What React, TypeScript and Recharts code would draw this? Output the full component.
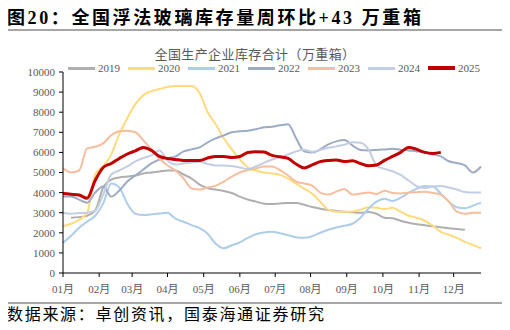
import React from 'react'
import { LineChart, Line, XAxis, YAxis, Legend } from 'recharts'

// weekly stock, 万重箱 (week 0 = first week of January)
const s2019 = [null, 2750, 2780, 2850, 3100, 4250, 4650, 4750, 4800, 4850, 4950, 5000, 5050, 5100, 5100, 4900, 4700, 4400, 4220, 4150, 4080, 3980, 3800, 3650, 3550, 3450, 3430, 3460, 3480, 3480, 3400, 3280, 3200, 3130, 3080, 3050, 3020, 3000, 3030, 2950, 2750, 2720, 2600, 2500, 2430, 2380, 2320, 2280, 2230, 2190, 2150, null, null]
const s2020 = [2330, 2450, 2650, 2980, 4900, 5300, 5900, 6900, 7700, 8400, 8850, 9050, 9150, 9250, 9300, 9300, 9300, 8950, 8000, 7400, 6700, 6150, 5650, 5250, 5100, 5000, 4950, 4880, 4700, 4450, 4200, 3950, 3550, 3150, 3050, 3050, 3060, 3150, 3270, 3250, 3180, 3250, 3050, 2850, 2750, 2600, 2350, 2050, 1900, 1750, 1550, 1400, 1230]
const s2021 = [1500, 1850, 2250, 2550, 2850, 3450, 4450, 4250, 3450, 2950, 2880, 2920, 2960, 3000, 2700, 2550, 2380, 2230, 1950, 1450, 1230, 1380, 1520, 1750, 1930, 2020, 2050, 1980, 1880, 1780, 1750, 1830, 2000, 2150, 2260, 2350, 2450, 2750, 3200, 3550, 3700, 3580, 3750, 3980, 4200, 4330, 4300, 3950, 3550, 3270, 3220, 3350, 3500]
const s2022 = [3800, 3800, 3650, 3500, 4000, 4300, 3800, 4100, 4550, 4850, 5150, 5450, 5650, 5720, 5800, 6050, 6150, 6250, 6500, 6700, 6850, 7000, 7050, 7080, 7150, 7250, 7280, 7350, 7400, 6700, 6050, 5990, 6150, 6400, 6550, 6620, 6350, 6120, 6100, 6120, 6150, 6180, 6130, 6100, 6050, 6030, 5900, 5800, 5560, 5470, 5350, 5000, 5300]
const s2023 = [5220, 5000, 5100, 6200, 6280, 6450, 6850, 7050, 7080, 7000, 6600, 6150, 5700, 5350, 5100, 4700, 4200, 4150, 4250, 4350, 4550, 4800, 5000, 5120, 5200, 5300, 5300, 5120, 4850, 4550, 4450, 4350, 4000, 3900, 4050, 4180, 3900, 3950, 4000, 3930, 4090, 3980, 3960, 4000, 4020, 4040, 3980, 3900, 3550, 3050, 2950, 3000, 3000]
const s2024 = [3000, 2950, 2980, 3000, 3100, 3900, 4900, 5100, 5300, 5550, 5720, 5850, 6100, 5600, 5400, 5450, 5500, 5540, 5420, 5350, 5350, 5320, 5250, 5170, 5300, 5480, 5650, 5760, 5900, 6050, 6130, 6030, 6120, 6230, 6300, 6380, 6500, 6480, 6150, 5350, 5180, 5060, 4880, 4600, 4320, 4230, 4300, 4330, 4250, 4150, 4030, 4000, 4000]
const s2025 = [3960, 3920, 3880, 3720, 4600, 5250, 5450, 5700, 5920, 6080, 6250, 6100, 5800, 5700, 5650, 5600, 5600, 5600, 5720, 5800, 5800, 5750, 5800, 6000, 6030, 6020, 5850, 5780, 5700, 5420, 5230, 5380, 5540, 5600, 5620, 5550, 5580, 5450, 5330, 5370, 5600, 5800, 6000, 6250, 6150, 6000, 5950, 6000, null, null, null, null, null]

const monthTicks = [0, 4.5, 8.6, 13.0, 17.5, 22.0, 26.4, 30.8, 35.3, 39.8, 44.3, 48.6]
const monthLabels = ['01月', '02月', '03月', '04月', '05月', '06月', '07月', '08月', '09月', '10月', '11月', '12月']
const yTicks = [0, 1000, 2000, 3000, 4000, 5000, 6000, 7000, 8000, 9000, 10000]

const series = [
    { key: 'y2019', name: '2019', values: s2019, color: '#AFAFAF', width: 2 },
    { key: 'y2020', name: '2020', values: s2020, color: '#FFDB7E', width: 2 },
    { key: 'y2021', name: '2021', values: s2021, color: '#AECDEB', width: 2 },
    { key: 'y2022', name: '2022', values: s2022, color: '#9DABC5', width: 2 },
    { key: 'y2023', name: '2023', values: s2023, color: '#F6BE9F', width: 2 },
    { key: 'y2024', name: '2024', values: s2024, color: '#C3CDE3', width: 2 },
    { key: 'y2025', name: '2025', values: s2025, color: '#C00000', width: 3 },
]

const data = s2020.map((_, i) => {
    const row: Record<string, number | null> = { week: i }
    series.forEach((s) => { row[s.key] = s.values[i] })
    return row
})

const serif = "'Liberation Serif', 'Noto Sans CJK SC', serif"
const cjk = "'Noto Sans CJK SC', sans-serif"

const renderLegend = (props: any) => (
    <div style={{ display: 'flex' }}>
        {props.payload.map((entry: any) => (
            <div key={entry.value} style={{ width: 60, display: 'flex', alignItems: 'center' }}>
                <span style={{ display: 'inline-block', width: 27, height: entry.value === '2025' ? 4 : 3, background: entry.color, marginRight: 3 }} />
                <span>{entry.value}</span>
            </div>
        ))}
    </div>
)

export default function App() {
    return (
        <div style={{ position: 'relative', width: 510, height: 330, margin: -8, background: '#fff', overflow: 'hidden' }}>
            <div style={{ position: 'absolute', left: 7, top: 3, fontFamily: serif, fontWeight: 'bold', fontSize: 18, letterSpacing: 2.6, color: '#000', whiteSpace: 'nowrap' }}>
                图20：全国浮法玻璃库存量周环比+43 万重箱
            </div>
            <div style={{ position: 'absolute', left: 5, top: 29, width: 498, height: 2, background: '#A6A6A6' }} />
            <div style={{ position: 'absolute', left: 0, top: 44, width: 510, textAlign: 'center', fontFamily: cjk, fontSize: 13, color: '#595959', letterSpacing: 0.4 }}>
                全国生产企业库存合计（万重箱）
            </div>
            <div style={{ position: 'absolute', left: 0, top: 0 }}>
                <LineChart width={510} height={300} data={data} margin={{ top: 72, right: 29, left: 8, bottom: 0 }}>
                    <XAxis
                        dataKey="week"
                        type="number"
                        domain={[0, 52]}
                        ticks={monthTicks}
                        interval={0}
                        tickFormatter={(v: number) => monthLabels[monthTicks.indexOf(v)]}
                        height={27}
                        tickSize={4}
                        tickMargin={8}
                        stroke="#000"
                        tick={{ fill: '#595959', fontSize: 11, fontFamily: serif }}
                    />
                    <YAxis
                        domain={[0, 10000]}
                        ticks={yTicks}
                        interval={0}
                        width={55}
                        tickSize={4}
                        tickMargin={4}
                        stroke="#000"
                        tick={{ fill: '#595959', fontSize: 11, fontFamily: serif }}
                    />
                    <Legend
                        layout="vertical"
                        verticalAlign="middle"
                        align="center"
                        content={renderLegend}
                        wrapperStyle={{ top: 61, left: 68, width: 440, fontFamily: serif, fontSize: 11, color: '#595959', lineHeight: '14px' }}
                    />
                    {series.map((s) => (
                        <Line
                            key={s.key}
                            dataKey={s.key}
                            name={s.name}
                            type="monotone"
                            stroke={s.color}
                            strokeWidth={s.width}
                            dot={false}
                            activeDot={false}
                            isAnimationActive={false}
                        />
                    ))}
                </LineChart>
            </div>
            <div style={{ position: 'absolute', left: 5, top: 302, width: 498, height: 2, background: '#A6A6A6' }} />
            <div style={{ position: 'absolute', left: 7, top: 304, height: 20, fontFamily: cjk, fontSize: 16, lineHeight: '18px', letterSpacing: 1.7, color: '#000', whiteSpace: 'nowrap' }}>
                数据来源：卓创资讯，国泰海通证券研究
            </div>
        </div>
    )
}
